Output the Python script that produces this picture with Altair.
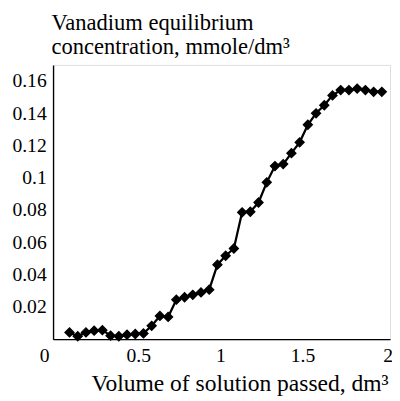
import altair as alt
import pandas as pd

volume = [0.1, 0.15, 0.2, 0.25, 0.3, 0.35, 0.4, 0.45, 0.5, 0.55,
          0.6, 0.65, 0.7, 0.75, 0.8, 0.85, 0.9, 0.95, 1.0, 1.05,
          1.1, 1.15, 1.2, 1.25, 1.3, 1.35, 1.4, 1.45, 1.5, 1.55,
          1.6, 1.65, 1.7, 1.75, 1.8, 1.85, 1.9, 1.95, 2.0]
vanadium = [0.0042, 0.0018, 0.0042, 0.0053, 0.0056, 0.0022, 0.0018, 0.0028, 0.0032, 0.0036,
            0.0083, 0.0144, 0.0138, 0.0245, 0.026, 0.0275, 0.029, 0.0307, 0.0462, 0.0517,
            0.0562, 0.0786, 0.079, 0.0847, 0.0972, 0.1073, 0.1085, 0.1153, 0.122, 0.1329,
            0.14, 0.145, 0.1511, 0.1544, 0.1544, 0.1553, 0.1544, 0.1533, 0.1533]
x_ticks = [0, 0.5, 1, 1.5, 2]
y_ticks = [0.02, 0.04, 0.06, 0.08, 0.1, 0.12, 0.14, 0.16]
y_title = ["Vanadium equilibrium", "concentration, mmole/dm³"]
x_title = "Volume of solution passed, dm³"

df = pd.DataFrame({"v": volume, "c": vanadium})

FONT = "Liberation Serif"

x_enc = alt.X("v:Q", scale=alt.Scale(domain=[0, 2.05], nice=False, zero=False),
              axis=alt.Axis(values=x_ticks, format="~g", grid=False, ticks=False, tickSize=0,
                            labelOverlap=False, labelFlush=False,
                            labelPadding=7, labelFontSize=20, labelFont=FONT, labelColor="black",
                            labelOffset={"expr": "datum.value == 0 ? -9 : (datum.value == 2 ? 6 : 3)"},
                            domainColor="black", domainWidth=1.4,
                            title=x_title, titleFont=FONT, titleFontSize=24, titleFontWeight="normal",
                            titleColor="black", titleAnchor="end", titleAlign="right",
                            titleBaseline="alphabetic", titleX=342, titleY=52))
y_enc = alt.Y("c:Q", scale=alt.Scale(domain=[0, 0.17], nice=False),
              axis=alt.Axis(values=y_ticks, format="~g", grid=False, ticks=False, tickSize=0,
                            labelOverlap=False, labelFlush=False, labelBound=False,
                            labelPadding=7, labelFontSize=20, labelFont=FONT, labelColor="black",
                            domainColor="black", domainWidth=1.4,
                            title=y_title, titleFont=FONT, titleFontSize=23, titleFontWeight="normal",
                            titleColor="black", titleAngle=0, titleAlign="left",
                            titleBaseline="alphabetic", titleX=-2, titleY=-36, titleLineHeight=24))

base = alt.Chart(df).encode(x=x_enc, y=y_enc)
line = base.mark_line(color="black", strokeWidth=2.3)
pts = base.mark_point(shape="diamond", filled=True, color="black", size=85, opacity=1,
                      stroke="black", strokeWidth=1.3)

chart = (line + pts).properties(
    width=344, height=280,
    autosize=alt.AutoSizeParams(type="none"),
    padding={"left": 46, "top": 54, "right": 2, "bottom": 58},
).configure_view(stroke=None).configure_axis(labelOverlap=False).configure(background="white")

chart.save("out.html", embed_options={"renderer": "svg", "actions": False})
